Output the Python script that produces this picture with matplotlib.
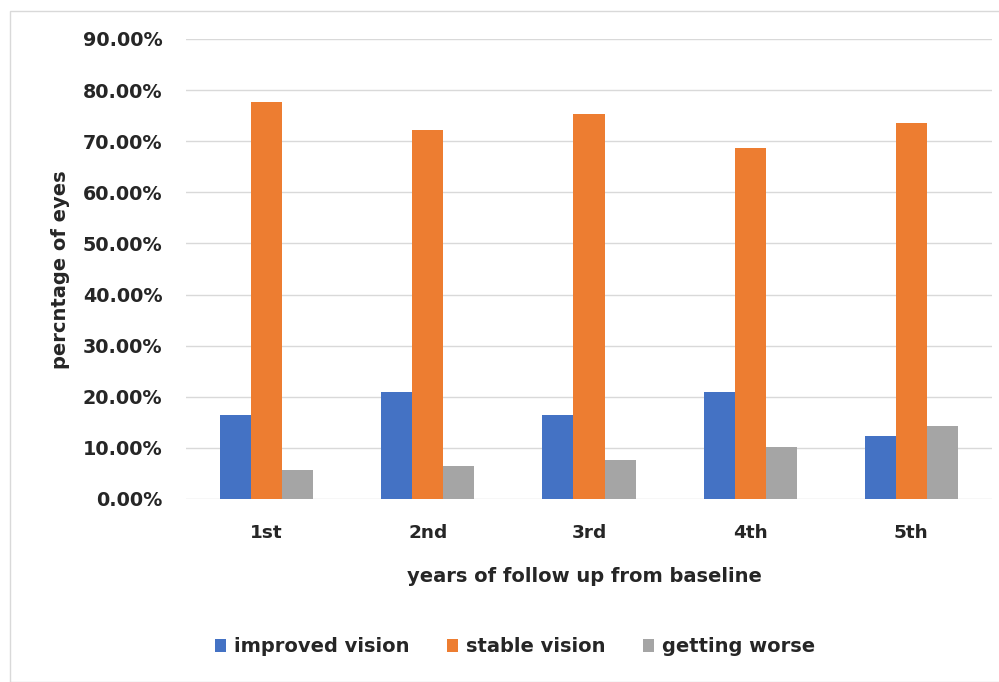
import matplotlib
matplotlib.use("Agg")
import matplotlib.pyplot as plt
from matplotlib.patches import Rectangle
from matplotlib.ticker import FuncFormatter, MultipleLocator
import numpy as np

plt.rcParams['font.family'] = ['DejaVu Sans']

years = ["1st", "2nd", "3rd", "4th", "5th"]
series_names = ["improved vision", "stable vision", "getting worse"]
improved = [16.5, 20.9, 16.5, 20.9, 12.3]
stable = [77.7, 72.2, 75.4, 68.7, 73.5]
worse = [5.6, 6.4, 7.6, 10.1, 14.2]
colors = ["#4472C4", "#ED7D31", "#A5A5A5"]
text_color = "#262626"

W, H = 999, 682
fig = plt.figure(figsize=(W / 100, H / 100), dpi=100)
fig.patch.set_facecolor("white")

# light chart-area frame
fig.patches.append(Rectangle((10 / W, 0), 1.2, 1 - 11 / H, transform=fig.transFigure,
                             fill=False, edgecolor="#D9D9D9", linewidth=1.0))

ax = fig.add_axes([186 / W, 1 - 499 / H, (992 - 186) / W, (499 - 39) / H])

x = np.arange(len(years))
bw = 0.193
for i, (vals, name, c) in enumerate(zip([improved, stable, worse], series_names, colors)):
    ax.bar(x + (i - 1) * bw, vals, width=bw, color=c, label=name, zorder=3)

ax.set_ylim(0, 90)
ax.set_xlim(-0.5, len(years) - 0.5)
ax.yaxis.set_major_locator(MultipleLocator(10))
ax.yaxis.set_major_formatter(FuncFormatter(lambda v, p: f"{v:.2f}%"))
ax.grid(axis="y", color="#D9D9D9", linewidth=1.0, zorder=0)
ax.set_xticks(x)
ax.set_xticklabels(years)
for s in ax.spines.values():
    s.set_visible(False)
ax.tick_params(axis="both", length=0, colors=text_color)
ax.tick_params(axis="y", pad=17, labelsize=13.8)
ax.tick_params(axis="x", pad=18, labelsize=13.3)
for lbl in ax.get_xticklabels() + ax.get_yticklabels():
    lbl.set_fontweight("bold")

fig.text(60 / W, 1 - 270 / H, "percntage of eyes", rotation=90, ha="center", va="center",
         fontsize=14, fontweight="bold", color=text_color)
fig.text(584 / W, 1 - 577 / H, "years of follow up from baseline", ha="center", va="center",
         fontsize=14, fontweight="bold", color=text_color)

fig.legend(loc="center", bbox_to_anchor=(515 / W, 1 - 647 / H), ncol=3, frameon=False,
           handlelength=0.6, handleheight=0.6, handletextpad=0.4,
           columnspacing=1.9, labelcolor=text_color,
           prop={"weight": "bold", "size": 14})

fig.savefig("out.png", dpi=100, facecolor="white")
